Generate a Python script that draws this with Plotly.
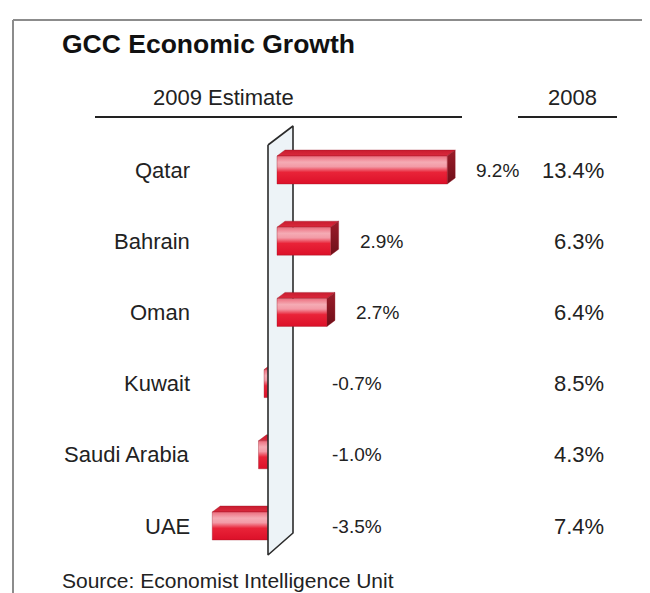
import plotly.graph_objects as go

# ---------------- data ----------------
countries = ["Qatar", "Bahrain", "Oman", "Kuwait", "Saudi Arabia", "UAE"]
est_2009 = [9.2, 2.9, 2.7, -0.7, -1.0, -3.5]
act_2008 = [13.4, 6.3, 6.4, 8.5, 4.3, 7.4]
title_text = "GCC Economic Growth"
header_2009 = "2009 Estimate"
header_2008 = "2008"
source_text = "Source: Economist Intelligence Unit"

# ---------------- layout constants (pixels in the reference) ----------------
W, H = 650, 593
OFF = 8                        # page margin the browser adds around the figure
X0_PX, KX = 277, 18.5          # zero position and px per percentage point
Y_TOP_PX, KY = 170, 71.2       # first row centre and px per row
FONT = "Liberation Sans, Arial, Helvetica, sans-serif"

n = len(countries)
ys = [n - 1 - i for i in range(n)]
xmin = -(X0_PX - OFF) / KX
xmax = xmin + W / KX
ymin = (n - 1) - (H - (Y_TOP_PX - OFF)) / KY
ymax = ymin + H / KY


def p2x(px):
    return xmin + (px - OFF) / KX


def p2y(py):
    return ymin + (H - (py - OFF)) / KY


def pxx(px):
    return (px - OFF) / W


def pyy(py):
    return 1 - (py - OFF) / H


BH = 14 / KY      # half bar height
DX = 8 / KX       # depth offset x
DY = 6 / KY       # depth offset y

front_scale = [[0.0, "#dc1029"], [0.42, "#e92338"], [0.62, "#f39aa6"],
               [0.78, "#f5abb4"], [1.0, "#ec6e7e"]]
top_scale = [[0.0, "#db2a3d"], [1.0, "#c81c2f"]]
side_scale = [[0.0, "#6e0f19"], [1.0, "#9b1c29"]]

fig = go.Figure()


def poly(xs, yv, scale, line_color="rgba(150,20,35,0.6)"):
    fig.add_trace(go.Scatter(
        x=xs + [xs[0]], y=yv + [yv[0]], mode="lines", fill="toself",
        line=dict(color=line_color, width=0.6),
        fillgradient=dict(type="vertical", colorscale=scale),
        hoverinfo="skip", showlegend=False))


def draw_bar(v, c):
    x0, x1 = min(0, v), max(0, v)
    # top face
    poly([x0, x1, x1 + DX, x0 + DX],
         [c + BH, c + BH, c + BH + DY, c + BH + DY], top_scale)
    if v > 0:
        # side face
        poly([x1, x1 + DX, x1 + DX, x1],
             [c - BH, c - BH + DY, c + BH + DY, c + BH], side_scale)
    # front face
    poly([x0, x1, x1, x0], [c - BH, c - BH, c + BH, c + BH], front_scale)


# negative bars sit behind the wall
for v, c in zip(est_2009, ys):
    if v < 0:
        draw_bar(v, c)

# the wall (decoration)
wall_x = [p2x(268), p2x(293), p2x(293), p2x(268), p2x(268)]
wall_y = [p2y(145), p2y(126), p2y(533), p2y(555), p2y(145)]
fig.add_trace(go.Scatter(x=wall_x, y=wall_y, mode="lines", fill="toself",
                         fillcolor="#edf3f7", line=dict(color="#2b2b2b", width=1.6),
                         hoverinfo="skip", showlegend=False))

# positive bars come out in front of the wall
for v, c in zip(est_2009, ys):
    if v > 0:
        draw_bar(v, c)

ann = []
for name, v, v8, c in zip(countries, est_2009, act_2008, ys):
    ann.append(dict(x=pxx(192), xref="paper", y=c, yref="y", text=name,
                    xanchor="right", yanchor="middle", showarrow=False,
                    font=dict(family=FONT, size=22, color="#222")))
    lab = f"{v:.1f}%"
    if v > 0:
        ann.append(dict(x=v, xref="x", xshift=27, y=c, yref="y", text=lab,
                        xanchor="left", yanchor="middle", showarrow=False,
                        font=dict(family=FONT, size=19, color="#222")))
    else:
        ann.append(dict(x=pxx(357), xref="paper", y=c, yref="y", text=lab,
                        xanchor="center", yanchor="middle", showarrow=False,
                        font=dict(family=FONT, size=19, color="#222")))
    ann.append(dict(x=pxx(606), xref="paper", y=c, yref="y", text=f"{v8:.1f}%",
                    xanchor="right", yanchor="middle", showarrow=False,
                    font=dict(family=FONT, size=22, color="#222")))

ann.append(dict(x=pxx(60), xref="paper", y=pyy(44), yref="paper",
                text=f"<b>{title_text}</b>", xanchor="left", yanchor="middle",
                showarrow=False, font=dict(family=FONT, size=26.5, color="#111")))
ann.append(dict(x=pxx(223), xref="paper", y=pyy(97), yref="paper",
                text=header_2009, xanchor="center", yanchor="middle",
                showarrow=False, font=dict(family=FONT, size=22, color="#222")))
ann.append(dict(x=pxx(572), xref="paper", y=pyy(97), yref="paper",
                text=header_2008, xanchor="center", yanchor="middle",
                showarrow=False, font=dict(family=FONT, size=22, color="#222")))
ann.append(dict(x=pxx(60), xref="paper", y=pyy(580), yref="paper",
                text=source_text, xanchor="left", yanchor="middle",
                showarrow=False, font=dict(family=FONT, size=21, color="#222")))

shapes = [
    dict(type="line", xref="paper", yref="paper", x0=pxx(95), x1=pxx(462),
         y0=pyy(117), y1=pyy(117), line=dict(color="#222", width=2)),
    dict(type="line", xref="paper", yref="paper", x0=pxx(518), x1=pxx(617),
         y0=pyy(117), y1=pyy(117), line=dict(color="#222", width=2)),
    dict(type="line", xref="paper", yref="paper", x0=pxx(13), x1=pxx(13),
         y0=pyy(20), y1=0, line=dict(color="#8c8c8c", width=2)),
    dict(type="line", xref="paper", yref="paper", x0=pxx(13), x1=1,
         y0=pyy(20), y1=pyy(20), line=dict(color="#8c8c8c", width=2)),
]

fig.update_layout(
    width=W, height=H, margin=dict(l=0, r=0, t=0, b=0),
    paper_bgcolor="white", plot_bgcolor="white",
    xaxis=dict(range=[xmin, xmax], visible=False, fixedrange=True),
    yaxis=dict(range=[ymin, ymax], visible=False, fixedrange=True),
    annotations=ann, shapes=shapes, showlegend=False,
)

fig.write_html("out.html", config={"displayModeBar": False})
